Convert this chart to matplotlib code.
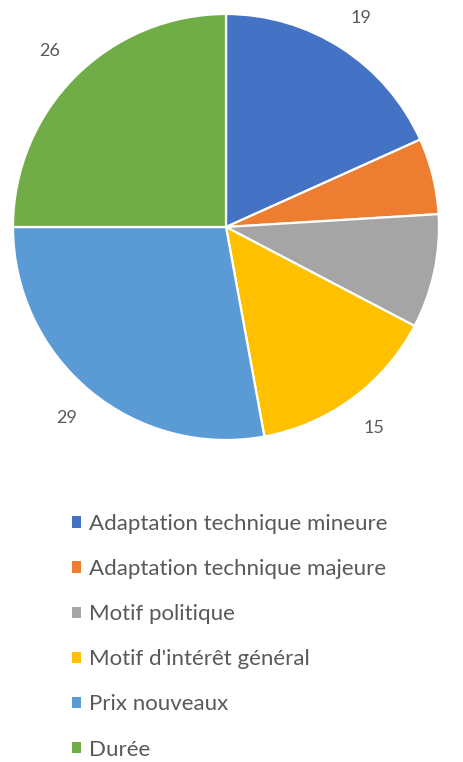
import matplotlib.pyplot as plt

categories = ["Adaptation technique mineure", "Adaptation technique majeure",
              "Motif politique", "Motif d'intérêt général", "Prix nouveaux", "Durée"]
values = [19, 6, 9, 15, 29, 26]
colors = ["#4472C4", "#ED7D31", "#A5A5A5", "#FFC000", "#5B9BD5", "#70AD47"]

plt.rcParams['font.family'] = ['Lato', 'DejaVu Sans']

fig = plt.figure(figsize=(4.63, 7.62), dpi=100)
ax = fig.add_axes([0, 0, 1, 1])

total = sum(values)
wedges, texts, autotexts = ax.pie(
    values, colors=colors, startangle=90, counterclock=False,
    center=(226, 535), radius=213, frame=True,
    wedgeprops=dict(edgecolor='white', linewidth=1.6),
    autopct=lambda p: f"{round(p * total / 100):.0f}", pctdistance=1.17,
    textprops=dict(color='#595959', fontsize=13))
ax.set_xlim(0, 463)
ax.set_ylim(0, 762)
ax.set_aspect('equal')
ax.axis('off')

leg = ax.legend(wedges, categories, loc='upper left', bbox_to_anchor=(72 / 463, 1 - 514 / 762),
                frameon=False, fontsize=16, labelcolor='#595959',
                handlelength=0.42, handleheight=0.42, handletextpad=0.35,
                labelspacing=1.13, borderaxespad=0, borderpad=0)
for h in leg.legend_handles:
    h.set_edgecolor('none')

fig.savefig("out.png", dpi=100)
